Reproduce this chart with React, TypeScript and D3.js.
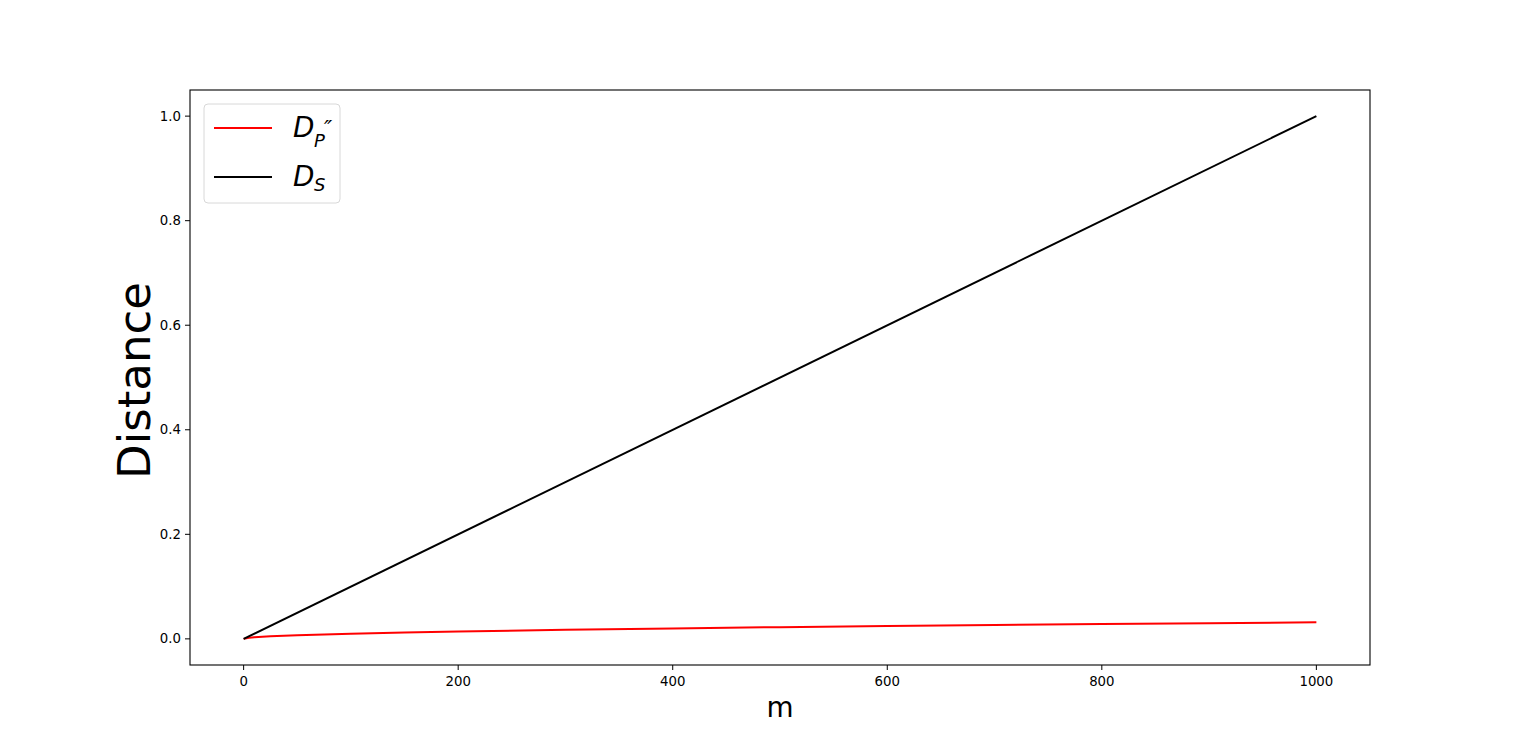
import * as d3 from 'd3';
import React from 'react';

// values
const mValues = [0, 5, 10, 25, 50, 100, 150, 200, 300, 400, 500, 600, 700, 800, 900, 1000];
const dppValues = [0, 0.0022, 0.0032, 0.005, 0.0071, 0.010, 0.0122, 0.0141, 0.0173, 0.020, 0.0224, 0.0245, 0.0265, 0.0283, 0.030, 0.0316];
const dsM = [0, 1000];
const dsValues = [0, 1.0];
const xTicks = [0, 200, 400, 600, 800, 1000];
const yTicks = [0.0, 0.2, 0.4, 0.6, 0.8, 1.0];

const W = 1522;
const H = 747;
const margin = { left: 190, right: 152, top: 90, bottom: 82 };

export default function App() {
  const x = d3.scaleLinear().domain([-50, 1050]).range([margin.left, W - margin.right]);
  const y = d3.scaleLinear().domain([-0.05, 1.05]).range([H - margin.bottom, margin.top]);

  const line = d3.line<[number, number]>()
    .x(d => x(d[0]))
    .y(d => y(d[1]));

  const red = mValues.map((m, i) => [m, dppValues[i]] as [number, number]);
  const black = dsM.map((m, i) => [m, dsValues[i]] as [number, number]);

  const font = 'DejaVu Sans, sans-serif';
  const legX = 204;
  const legY = 104;

  return (
    <svg width={W} height={H} style={{ position: 'absolute', left: 0, top: 0 }} fontFamily={font}>
      <rect width={W} height={H} fill="#fff" />

      {/* lines */}
      <path d={line(red) || ''} fill="none" stroke="red" strokeWidth={2} />
      <path d={line(black) || ''} fill="none" stroke="black" strokeWidth={2} />

      {/* frame */}
      <rect x={margin.left} y={margin.top} width={W - margin.left - margin.right}
        height={H - margin.top - margin.bottom} fill="none" stroke="black" strokeWidth={1.1} />

      {/* x ticks */}
      {xTicks.map(t => (
        <g key={'x' + t} transform={`translate(${x(t)},${H - margin.bottom})`}>
          <line y2={5} stroke="black" strokeWidth={1} />
          <text y={21} textAnchor="middle" fontSize={13.3}>{t}</text>
        </g>
      ))}
      {/* y ticks */}
      {yTicks.map(t => (
        <g key={'y' + t} transform={`translate(${margin.left},${y(t)})`}>
          <line x2={-5} stroke="black" strokeWidth={1} />
          <text x={-9} dy="0.33em" textAnchor="end" fontSize={13.3}>{t.toFixed(1)}</text>
        </g>
      ))}

      {/* axis labels */}
      <text x={(margin.left + W - margin.right) / 2} y={717} textAnchor="middle" fontSize={27.8}>m</text>
      <text transform={`translate(150,${(margin.top + H - margin.bottom) / 2 + 3}) rotate(-90)`}
        textAnchor="middle" fontSize={45}>Distance</text>

      {/* legend */}
      <rect x={legX} y={legY} width={136} height={99} rx={4} fill="#fff" fillOpacity={0.8}
        stroke="#d8d8d8" strokeWidth={1} />
      <line x1={214} x2={272} y1={128} y2={128} stroke="red" strokeWidth={2} />
      <line x1={214} x2={272} y1={177} y2={177} stroke="black" strokeWidth={2} />
      <text x={293} y={137} fontSize={27.8} fontStyle="italic">D</text>
      <text x={314} y={147} fontSize={18} fontStyle="italic">P</text>
      <text x={324} y={136} fontSize={22} fontStyle="italic">″</text>
      <text x={293} y={186} fontSize={27.8} fontStyle="italic">D</text>
      <text x={314} y={191} fontSize={18} fontStyle="italic">S</text>
    </svg>
  );
}
